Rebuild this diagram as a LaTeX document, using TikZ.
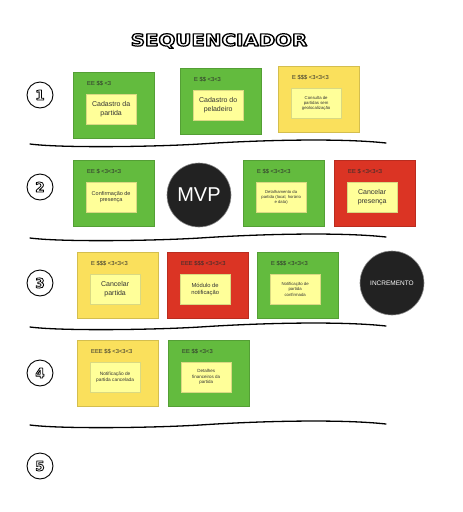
\documentclass[tikz,border=0pt]{standalone}
\usepackage{fontspec}
\setmainfont{Liberation Sans}
\newfontfamily\bubblefont{DejaVu Sans}
\usetikzlibrary{positioning}

\definecolor{postitgreen}{RGB}{99,187,62}
\definecolor{postityellow}{RGB}{250,224,92}
\definecolor{postitred}{RGB}{219,52,36}
\definecolor{notepaper}{RGB}{255,255,153}
\definecolor{bubbleblack}{RGB}{34,34,34}
\definecolor{headgray}{RGB}{45,45,45}

\tikzset{
  card/.style={fill=#1, draw=#1!85!black, line width=0.4pt, minimum width=81pt,
    minimum height=66pt, inner sep=0pt, anchor=north west},
  note/.style={fill=notepaper, draw=notepaper!85!black, line width=0.3pt,
    minimum width=50pt, minimum height=30pt, inner sep=1pt, align=center,
    text=black!80, anchor=north west},
  head/.style={font=\fontsize{5.8}{6.2}\selectfont, text=headgray, inner sep=0pt, anchor=west},
  milestone/.style={circle, fill=bubbleblack, draw=black!45, line width=0.6pt,
    minimum size=64pt, inner sep=0pt, text=white},
  rowmark/.style={circle, draw=black, line width=0.9pt, minimum size=26pt, inner sep=0pt},
  sepline/.style={line width=1.3pt, line cap=round},
}

% white letters with a black outline (fill + stroke text mode)
\newcommand{\bubble}[2]{%
  \textcolor{white}{\special{pdf:literal direct 2 Tr #1 w 0 G 1 j}#2%
  \special{pdf:literal direct 0 Tr}}%
}

\newcommand{\stickyrow}[1]{
  \foreach \nm/\cx/\cy/\col/\hd/\fs/\bs/\txt in {#1} {
    \node[card=\col] (\nm) at (\cx,\cy) {};
    \node[head] (\nm-hd) at ([shift={(14,12)}]\nm.north west) {\hd};
    \node[note, font=\fontsize{\fs}{\bs}\selectfont] (\nm-in)
      at ([shift={(13,22)}]\nm.north west) {\txt};
  }
}

\begin{document}
\begin{tikzpicture}[x=1pt, y=-1pt]
\useasboundingbox (0,0) rectangle (463,512);

\node (title) at (219,41) [xscale=1.2, inner sep=0pt]
  {\bubblefont\bfseries\fontsize{16.5}{16.5}\selectfont\bubble{1.2}{SEQUENCIADOR}};

\foreach \n/\ry in {1/95, 2/187, 3/283, 4/373, 5/466} {
  \node[rowmark] (row\n) at (40,\ry)
    {\bubblefont\bfseries\fontsize{13.5}{13.5}\selectfont\bubble{0.8}{\n}};
}

\foreach \dy in {0,94,183,281} {
  \draw[sepline] (30,144+\dy) .. controls (60,148+\dy) and (150,147+\dy) .. (200,144+\dy)
    .. controls (260,140+\dy) and (340,138+\dy) .. (386,143+\dy);
}

\stickyrow{c1/73/72/postitgreen/{EE \$\$ <3}/7/8.5/{Cadastro da\\partida},
  c2/180/68/postitgreen/{E \$\$ <3<3}/7/8.5/{Cadastro do\\peladeiro},
  c3/278/66/postityellow/{E \$\$\$ <3<3<3}/4.3/5.2/{Consulta de\\partidas sem\\geolocalização}}

\stickyrow{c4/73/160/postitgreen/{EE \$ <3<3<3}/5.5/6.8/{Confirmação de\\presença},
  c5/243/160/postitgreen/{E \$\$ <3<3<3}/4.2/5.2/{Detalhamento da\\partida (local, horário\\e data)},
  c6/334/160/postitred/{EE \$ <3<3<3}/7/8.5/{Cancelar\\presença}}

\stickyrow{c7/77/252/postityellow/{E \$\$\$ <3<3<3}/7/8.5/{Cancelar\\partida},
  c8/167/252/postitred/{EEE \$\$\$ <3<3<3}/5.8/7.2/{Módulo de\\notificação},
  c9/257/252/postitgreen/{E \$\$\$ <3<3<3}/4.3/5.4/{Notificação de\\partida\\confirmada}}

\stickyrow{c10/77/340/postityellow/{EEE \$\$ <3<3<3}/4.8/6/{Notificação de\\partida cancelada},
  c11/168/340/postitgreen/{EE \$\$ <3<3}/4.5/5.6/{Detalhes\\financeiros da\\partida}}

\node[milestone, font=\fontsize{20}{20}\selectfont] (mvp) at (199,195) {MVP};
\node[milestone, font=\fontsize{6.5}{7}\selectfont] (incremento) at (392,283) {INCREMENTO};
\end{tikzpicture}
\end{document}
